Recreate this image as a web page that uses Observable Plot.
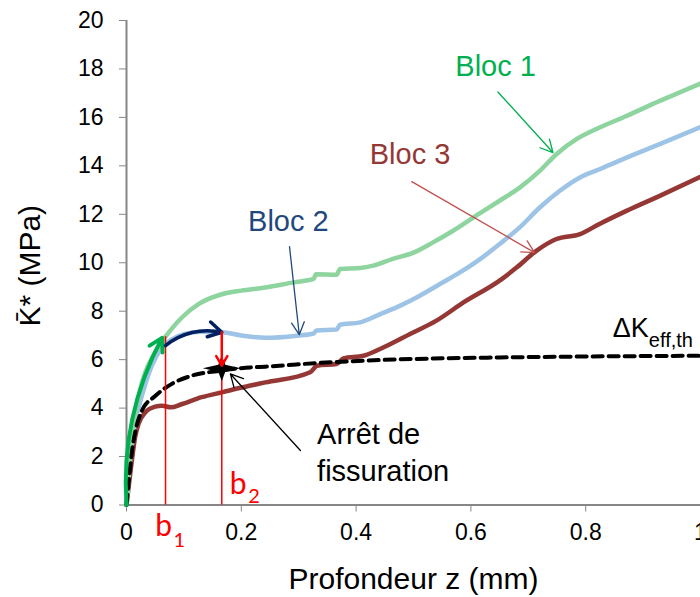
<!DOCTYPE html>
<html><head><meta charset="utf-8">
<script src="https://cdn.jsdelivr.net/npm/d3@7"></script>
<script src="https://cdn.jsdelivr.net/npm/@observablehq/plot@0.6"></script>
<style>
body{margin:0;background:#fff;}
svg{font-family:"Liberation Sans",Arial,sans-serif;}
</style>
</head><body><div id="chart"></div>
<script>
// ---- data (z in mm, K* in MPa) ----
const bloc1Z = [0,0.006,0.014,0.022,0.033,0.045,0.056,0.068,0.097,0.126,0.166,0.2,0.242,0.291,0.326,0.330,0.366,0.372,0.407,0.43,0.464,0.5,0.534,0.569,0.616,0.65,0.685,0.72,0.749,0.784,0.824,0.871,0.929,1.0];
const bloc1K = [0,2.0,3.6,4.6,5.5,6.1,6.55,6.95,7.75,8.3,8.7,8.85,8.98,9.19,9.33,9.53,9.5,9.74,9.78,9.88,10.16,10.42,10.84,11.32,12.05,12.56,13.1,13.79,14.48,15.1,15.58,16.06,16.68,17.4];
const bloc2Z = [0,0.006,0.012,0.021,0.033,0.045,0.062,0.08,0.1,0.13,0.166,0.2,0.242,0.297,0.326,0.331,0.366,0.372,0.407,0.442,0.477,0.511,0.546,0.581,0.616,0.65,0.685,0.72,0.755,0.79,0.824,0.871,0.929,1.0];
const bloc2K = [0,1.8,3.0,4.0,5.0,5.8,6.5,6.85,7.05,7.15,7.13,7.0,6.9,6.99,7.08,7.2,7.24,7.44,7.54,7.88,8.23,8.64,9.12,9.6,10.15,10.77,11.46,12.28,12.97,13.52,13.86,14.34,14.9,15.6];
const bloc3Z = [0,0.005,0.01,0.015,0.021,0.033,0.05,0.062,0.077,0.097,0.131,0.166,0.216,0.242,0.32,0.332,0.366,0.378,0.413,0.448,0.494,0.54,0.587,0.65,0.68,0.714,0.749,0.79,0.824,0.871,0.929,1.0];
const bloc3K = [0,1.0,1.97,2.8,3.35,3.83,4.06,4.1,4.03,4.17,4.45,4.65,4.93,5.06,5.48,5.75,5.82,6.05,6.16,6.51,7.06,7.61,8.36,9.26,9.81,10.49,10.98,11.18,11.6,12.14,12.76,13.55];
const seuilZ = [0,0.005,0.01,0.016,0.027,0.05,0.079,0.114,0.166,0.216,0.242,0.332,0.448,0.65,0.8,1.0];
const seuilK = [0,1.2,2.3,3.1,3.9,4.5,5.0,5.34,5.55,5.68,5.71,5.86,5.99,6.09,6.13,6.16];

const xTicks = [0,0.2,0.4,0.6,0.8,1];
const xTickLabels = ["0","0.2","0.4","0.6","0.8","1"];
const yTicks = [0,2,4,6,8,10,12,14,16,18,20];

// b1 / b2 markers and crack-arrest point
const bZ = [0.068, 0.166];
const bTop = [6.95, 7.13];
const arretZ = 0.166, arretK = 5.65;

// annotation labels
const labelText = ["Bloc 1","Bloc 3","Bloc 2"];
const labelZ = [0.643,0.494,0.282];
const labelK = [17.71,14.07,11.32];
const labelColor = ["#00B050","#953735","#1F497D"];
const pointerFrom = [[0.647,17.05],[0.497,13.35],[0.284,10.66],[0.303,2.25]];
const pointerTo = [[0.743,14.55],[0.711,10.42],[0.301,7.03],[0.181,5.41]];
const pointerColor = ["#00B050","#C0504D","#1F497D","#000000"];

const pts = (xs, ys) => xs.map((x,i)=>({x, y: ys[i]}));
const bloc1 = pts(bloc1Z, bloc1K), bloc2 = pts(bloc2Z, bloc2K), bloc3 = pts(bloc3Z, bloc3K), seuil = pts(seuilZ, seuilK);
const labels = labelText.map((t,i)=>({t, x: labelZ[i], y: labelK[i], c: labelColor[i]}));
const pointers = pointerFrom.map((p,i)=>({x1:p[0],y1:p[1],x2:pointerTo[i][0],y2:pointerTo[i][1],c:pointerColor[i]}));

const star4 = {draw(ctx){ const h=19,v=13,i=3.5;
  ctx.moveTo(-h,0); ctx.lineTo(-i,-i); ctx.lineTo(0,-v); ctx.lineTo(i,-i);
  ctx.lineTo(h,0); ctx.lineTo(i,i); ctx.lineTo(0,v); ctx.lineTo(-i,i); ctx.closePath(); }};

const FS = 29;
const chart = Plot.plot({
  width: 700, height: 597,
  marginLeft: 126, marginRight: 0, marginTop: 20, marginBottom: 92.5,
  x: {domain: [0, 1]},
  y: {domain: [0, 20]},
  style: {background: "white", fontFamily: "Liberation Sans, Arial, sans-serif", overflow: "visible"},
  marks: [
    Plot.axisY({ticks: yTicks, tickSize: 7, tickPadding: 16, fontSize: 23, stroke: "#868686", label: null}),
    Plot.axisX({ticks: xTicks, tickFormat: (d) => xTickLabels[xTicks.indexOf(d)], tickSize: 7, tickPadding: 12, fontSize: 23, stroke: "#868686", label: null}),
    Plot.ruleX([0], {stroke: "#868686", strokeWidth: 2}),
    Plot.ruleY([0], {stroke: "#868686", strokeWidth: 2}),
    Plot.text(["Profondeur z (mm)"], {frameAnchor: "bottom", lineAnchor: "bottom", dy: 83.5, fontSize: 30, fill: "#000"}),
    Plot.text(["K\u0304* (MPa)"], {frameAnchor: "left", textAnchor: "middle", rotate: -90, dx: -96, dy: 3, fontSize: 30, fill: "#000"}),
    // curves
    Plot.line(bloc3, {x: "x", y: "y", stroke: "#953735", strokeWidth: 4.5, curve: "monotone-x"}),
    Plot.line(bloc2, {x: "x", y: "y", stroke: "#9DC3E6", strokeWidth: 4.5, curve: "monotone-x"}),
    Plot.line(bloc1, {x: "x", y: "y", stroke: "#8ED49F", strokeWidth: 4.5, curve: "monotone-x"}),
    Plot.line(seuil, {x: "x", y: "y", stroke: "#000", strokeWidth: 4, strokeDasharray: "10,6", curve: "monotone-x"}),
    // b1, b2 markers
    Plot.ruleX(bZ.map((x,i)=>({x, y2: bTop[i]})), {x: "x", y1: 0, y2: "y2", stroke: "#FF0000", strokeWidth: 1.5}),
    // sequence arrows
    Plot.arrow([{x1: 0, y1: 0, x2: 0.062, y2: 6.9}], {x1: "x1", y1: "y1", x2: "x2", y2: "y2", bend: 16, stroke: "#00B050", strokeWidth: 4, headLength: 5.5}),
    Plot.arrow([{x1: 0.068, y1: 6.58, x2: 0.166, y2: 7.13}], {x1: "x1", y1: "y1", x2: "x2", y2: "y2", bend: 26, stroke: "#002060", strokeWidth: 3.5, headLength: 6.5}),
    Plot.dot([{x: arretZ, y: arretK}], {x: "x", y: "y", symbol: star4, r: 5, fill: "#000", stroke: "none"}),
    Plot.arrow([{x1: 0.166, y1: 7.13, x2: 0.166, y2: 5.75}], {x1: "x1", y1: "y1", x2: "x2", y2: "y2", stroke: "#FF0000", strokeWidth: 2.5, headLength: 7}),
    // pointers
    Plot.arrow(pointers, {x1: "x1", y1: "y1", x2: "x2", y2: "y2", stroke: "c", strokeWidth: 1.3, headLength: 16, headAngle: 55}),
    // labels
    Plot.text(labels, {x: "x", y: "y", text: "t", fill: "c", fontSize: FS, lineAnchor: "bottom"}),
    Plot.text([{t: "Arrêt de", x: 0.332, y: 2.5}, {t: "fissuration", x: 0.332, y: 1.01}], {x: "x", y: "y", text: "t", fill: "#000", fontSize: FS, textAnchor: "start", lineAnchor: "bottom"}),
    Plot.text([{t: "ΔK", x: 0.847, y: 6.92}], {x: "x", y: "y", text: "t", fill: "#000", fontSize: 27, textAnchor: "start", lineAnchor: "bottom"}),
    Plot.text([{t: "eff,th", x: 0.91, y: 6.51}], {x: "x", y: "y", text: "t", fill: "#000", fontSize: 20, textAnchor: "start", lineAnchor: "bottom"}),
    Plot.text([{t: "b", x: 0.05, y: -1.3}, {t: "b", x: 0.18, y: 0.45}], {x: "x", y: "y", text: "t", fill: "#FF0000", fontSize: 30, textAnchor: "start", lineAnchor: "bottom", fontFamily: "Lato"}),
    Plot.text([{t: "1", x: 0.082, y: -1.72}, {t: "2", x: 0.212, y: 0.08}], {x: "x", y: "y", text: "t", fill: "#FF0000", fontSize: 20, textAnchor: "start", lineAnchor: "bottom", fontFamily: "Lato"})
  ]
});
document.getElementById("chart").appendChild(chart);
</script>
</body></html>
